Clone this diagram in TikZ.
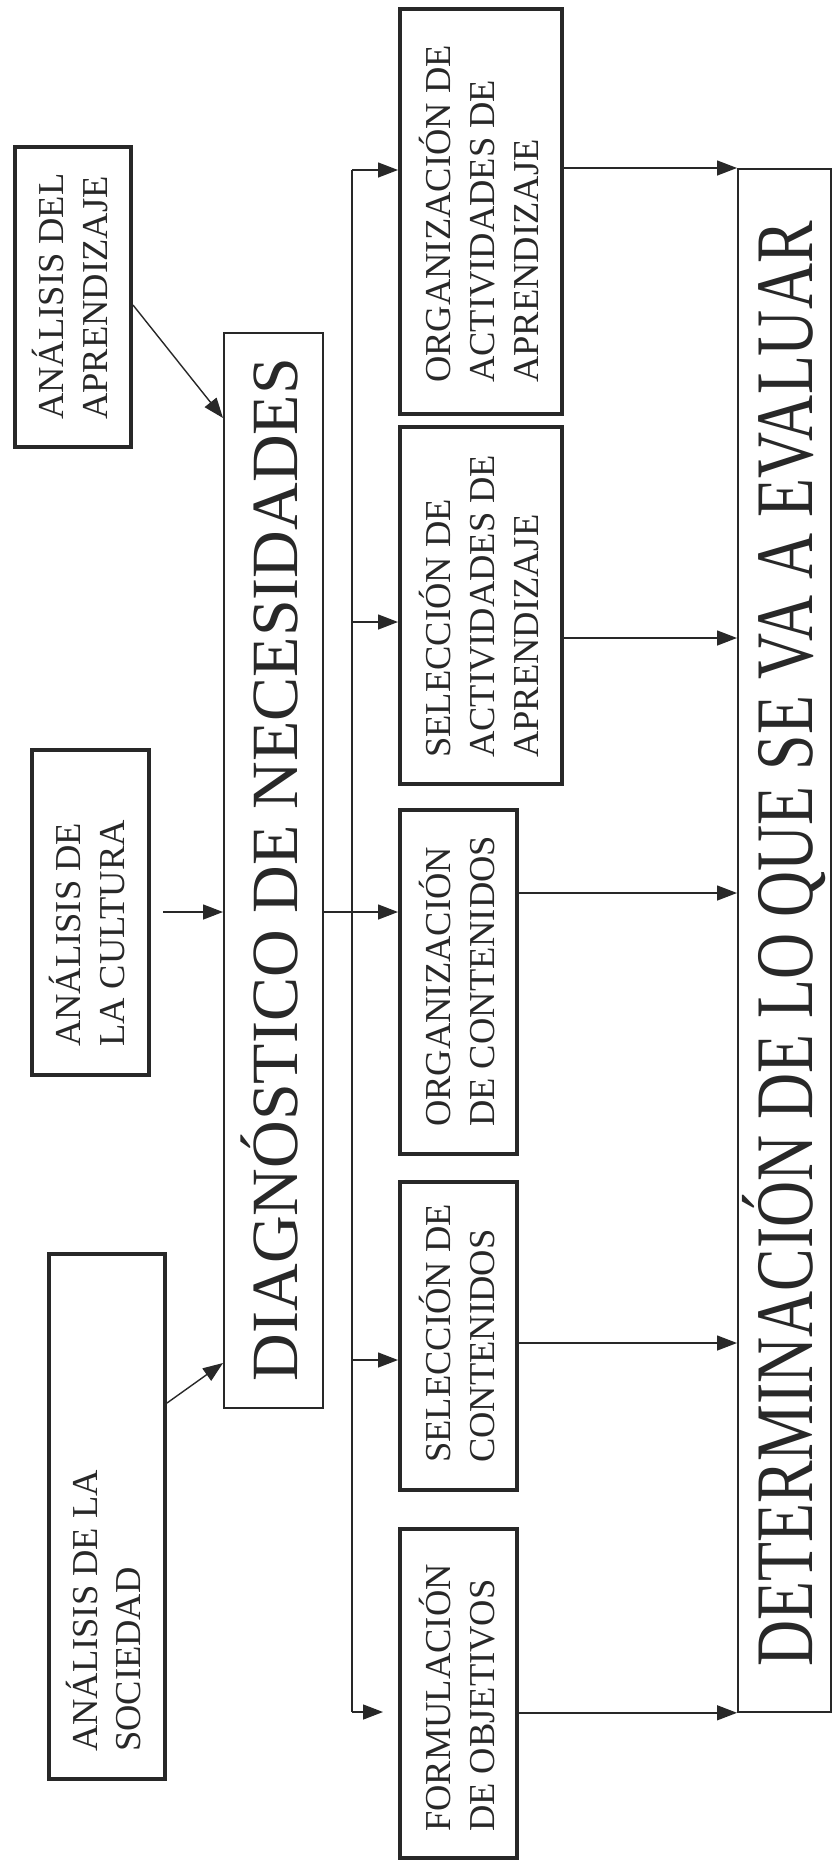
\documentclass[tikz,border=0pt]{standalone}
\usepackage{fontspec}
\usepackage{graphicx}
\setmainfont{Liberation Serif}
\usetikzlibrary{arrows.meta}
\definecolor{ink}{RGB}{40,40,40}
\begin{document}
\begin{tikzpicture}[x=1pt,y=-1pt,
  thickbox/.style={draw=ink, line width=4pt, inner sep=0pt, anchor=north west},
  thinbox/.style={draw=ink, line width=1.8pt, inner sep=0pt, anchor=north west},
  conn/.style={draw=ink, line width=1.4pt},
  arr/.style={conn, -{Triangle[length=20pt,width=15pt]}},
  txt/.style={rotate=90, anchor=base west, inner sep=0pt, text=ink, font=\fontsize{36.5}{43}\selectfont},
  bigtxt/.style={rotate=90, anchor=base, inner sep=0pt, text=ink}
]
\useasboundingbox (0,0) rectangle (835,1860);
\fill[white] (0,0) rectangle (835,1860);

% boxes
\node[thickbox, minimum width=116pt, minimum height=300pt] (apr) at (13,145) {};
\node[thickbox, minimum width=117pt, minimum height=325pt] (cult) at (30,748) {};
\node[thickbox, minimum width=116pt, minimum height=525pt] (soc) at (47,1252) {};
\node[thinbox, minimum width=99pt, minimum height=1075pt] (diag) at (223,332) {};
\node[thickbox, minimum width=162pt, minimum height=405pt] (oa) at (398,7) {};
\node[thickbox, minimum width=162pt, minimum height=357pt] (sa) at (398,425) {};
\node[thickbox, minimum width=117pt, minimum height=344pt] (oc) at (398,808) {};
\node[thickbox, minimum width=117pt, minimum height=308pt] (sc) at (398,1180) {};
\node[thickbox, minimum width=117pt, minimum height=329pt] (fo) at (398,1527) {};
\node[thinbox, minimum width=93pt, minimum height=1543pt] (det) at (737,168) {};

% texts
\node[txt] (apr1) at (63,420) {ANÁLISIS DEL};
\node[txt] (apr2) at (107,420) {APRENDIZAJE};
\node[txt] (cult1) at (80,1047) {ANÁLISIS DE};
\node[txt] (cult2) at (124,1047) {LA CULTURA};
\node[txt] (soc1) at (97,1752) {ANÁLISIS DE LA};
\node[txt] (soc2) at (140,1752) {SOCIEDAD};
\node[txt] (oa1) at (450,383) {ORGANIZACIÓN DE};
\node[txt] (oa2) at (494,383) {ACTIVIDADES DE};
\node[txt] (oa3) at (538,383) {APRENDIZAJE};
\node[txt] (sa1) at (450,758) {SELECCIÓN DE};
\node[txt] (sa2) at (494,758) {ACTIVIDADES DE};
\node[txt] (sa3) at (538,758) {APRENDIZAJE};
\node[txt] (oc1) at (450,1127) {ORGANIZACIÓN};
\node[txt] (oc2) at (494,1127) {DE CONTENIDOS};
\node[txt] (sc1) at (450,1463) {SELECCIÓN DE};
\node[txt] (sc2) at (494,1463) {CONTENIDOS};
\node[txt] (fo1) at (450,1832) {FORMULACIÓN};
\node[txt] (fo2) at (494,1832) {DE OBJETIVOS};
\node[bigtxt, font=\fontsize{66}{70}\selectfont] (diagt) at (297,869.5) {DIAGNÓSTICO DE NECESIDADES};
\node[bigtxt, font=\fontsize{63.8}{70}\selectfont] (dett) at (812,944) {\scalebox{1}[1.28]{DETERMINACIÓN DE LO QUE SE VA A EVALUAR}};

% inputs to diagnostico
\draw[arr] (soc.east |- 0,1403) -- (diag.west |- 0,1363);
\coordinate (b3) at (352,912);
\draw[arr, shorten <=12pt] (cult.east |- b3) -- (diag.west |- b3);
\draw[arr] (apr.east |- 0,305) -- (diag.west |- 0,418);

% bus
\coordinate (bt) at (352,170);
\coordinate (b2) at (352,622);
\coordinate (b4) at (352,1360);
\coordinate (bb) at (352,1712);
\draw[conn] (bt) -- (bb);
\draw[arr] (bt) -- (oa.west |- bt);
\draw[arr] (b2) -- (sa.west |- b2);
\draw[arr] (diag.east |- b3) -- (oc.west |- b3);
\draw[arr] (b4) -- (sc.west |- b4);
\draw[arr, shorten >=15pt] (bb) -- (fo.west |- bb);

% outputs to determinacion
\draw[arr] (oa.east |- det.north) -- (det.north west);
\coordinate (o2) at (0,638);
\coordinate (o3) at (0,893);
\coordinate (o4) at (0,1343);
\draw[arr] (sa.east |- o2) -- (det.west |- o2);
\draw[arr] (oc.east |- o3) -- (det.west |- o3);
\draw[arr] (sc.east |- o4) -- (det.west |- o4);
\draw[arr] (fo.east |- det.south) -- (det.south west);
\end{tikzpicture}
\end{document}
